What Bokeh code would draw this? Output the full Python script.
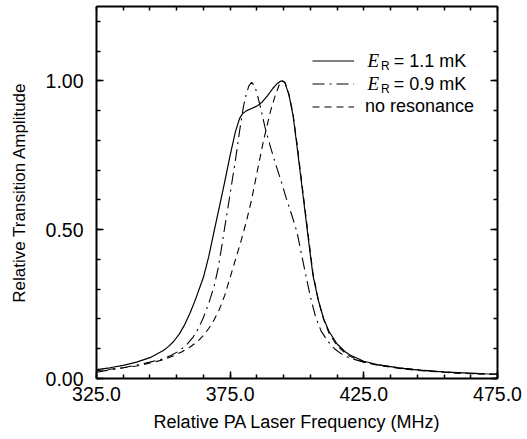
from bokeh.plotting import figure
from bokeh.models import (Range1d, LinearAxis, FixedTicker, PrintfTickFormatter,
                          Legend, LegendItem, Label, CustomLabelingPolicy)
from bokeh.embed import file_html
from bokeh.resources import INLINE

# ---- data ----
freq_11 = [325, 330, 335, 340, 345, 350, 352, 354, 356, 358, 360, 362, 365, 367, 369,
           371, 373, 375, 377, 378.5, 379.5, 381, 383, 385, 387, 389, 391, 392.5, 393.7,
           394.5, 395.5, 397, 398.5, 400, 401.5, 403, 404.5, 406, 408, 410, 412, 415,
           418, 420, 425, 430, 435, 440, 445, 450, 455, 460, 465, 470, 475]
amp_11 = [0.030, 0.036, 0.044, 0.055, 0.070, 0.094, 0.108, 0.126, 0.150, 0.181, 0.220,
          0.265, 0.340, 0.410, 0.495, 0.578, 0.662, 0.750, 0.830, 0.873, 0.888, 0.899,
          0.907, 0.915, 0.929, 0.950, 0.975, 0.990, 0.998, 1.000, 0.993, 0.952, 0.885,
          0.780, 0.670, 0.560, 0.450, 0.345, 0.262, 0.200, 0.158, 0.116, 0.090, 0.078,
          0.058, 0.047, 0.040, 0.033, 0.029, 0.025, 0.022, 0.020, 0.018, 0.016, 0.015]

freq_09 = [325, 330, 335, 340, 345, 350, 353, 356, 359, 361, 363, 365, 367, 369, 370.5,
           372, 373, 374, 375.5, 377, 378.5, 380, 381, 382, 383, 384, 385, 386.5, 388,
           390, 392, 394, 396, 398, 400, 401.5, 403, 405, 407, 409, 411.5, 414, 417,
           420, 425, 430, 435, 440, 445, 450, 455, 460, 465, 470, 475]
amp_09 = [0.021, 0.029, 0.036, 0.045, 0.055, 0.066, 0.078, 0.093, 0.116, 0.137, 0.166,
          0.205, 0.253, 0.310, 0.370, 0.452, 0.510, 0.565, 0.650, 0.735, 0.830, 0.915,
          0.955, 0.983, 0.995, 0.985, 0.960, 0.905, 0.845, 0.780, 0.720, 0.665, 0.605,
          0.550, 0.492, 0.425, 0.360, 0.275, 0.205, 0.160, 0.125, 0.100, 0.080, 0.068,
          0.055, 0.046, 0.040, 0.034, 0.030, 0.026, 0.022, 0.019, 0.017, 0.015, 0.014]

freq_nr = [325, 330, 335, 340, 345, 350, 354, 357, 360, 363, 365, 367, 369, 371, 373,
           375, 377, 379, 381, 383, 385, 387.5, 390, 392, 393.5, 394.5, 395.5, 397,
           398.5, 400, 401.5, 403, 404.5, 406, 408, 410, 412, 415, 418, 420, 425, 430,
           435, 440, 445, 450, 455, 460, 465, 470, 475]
amp_nr = [0.026, 0.031, 0.036, 0.042, 0.052, 0.063, 0.077, 0.090, 0.106, 0.126, 0.145,
          0.168, 0.197, 0.233, 0.280, 0.340, 0.400, 0.460, 0.525, 0.600, 0.690, 0.800,
          0.895, 0.955, 0.990, 1.000, 0.995, 0.955, 0.890, 0.790, 0.680, 0.570, 0.460,
          0.352, 0.262, 0.198, 0.152, 0.110, 0.085, 0.074, 0.055, 0.045, 0.038, 0.032,
          0.027, 0.024, 0.021, 0.018, 0.016, 0.015, 0.014]

x_major = [325, 375, 425, 475]
x_minor = list(range(325, 476, 10))
y_major = [0.0, 0.5, 1.0]
y_minor = [0.0, 0.1, 0.2, 0.3, 0.4, 0.5, 0.6, 0.7, 0.8, 0.9, 1.0, 1.1, 1.2]

legend_rows = [("E", "R", "= 1.1 mK"), ("E", "R", "= 0.9 mK"), ("no resonance",)]

FONT = "Liberation Sans"

p = figure(width=527, height=439, output_backend="svg", toolbar_location=None,
           x_range=Range1d(325, 475), y_range=Range1d(0, 1.2496),
           min_border_left=96, min_border_right=30, min_border_top=6,
           min_border_bottom=61, x_axis_location=None, y_axis_location=None)
p.outline_line_color = None
p.xgrid.visible = False
p.ygrid.visible = False
p.background_fill_color = "white"
p.border_fill_color = "white"


def style_axis(ax, ticker, show_labels):
    ax.ticker = ticker
    ax.axis_line_width = 2
    ax.axis_line_color = "black"
    ax.major_tick_in = 7
    ax.major_tick_out = 0
    ax.minor_tick_in = 4
    ax.minor_tick_out = 0
    ax.major_tick_line_width = 1.5
    ax.minor_tick_line_width = 1.5
    ax.major_tick_line_color = "black"
    ax.minor_tick_line_color = "black"
    ax.major_label_text_font = FONT
    ax.axis_label_text_font = FONT
    ax.axis_label_text_font_style = "normal"
    ax.axis_label_text_color = "black"
    ax.major_label_text_color = "black"
    if not show_labels:
        ax.major_label_policy = CustomLabelingPolicy(code="return new Set()")
        ax.major_label_standoff = 0
        ax.axis_label = None


xt = FixedTicker(ticks=x_major, minor_ticks=x_minor)
yt = FixedTicker(ticks=y_major, minor_ticks=y_minor)

bottom = LinearAxis(axis_label="Relative PA Laser Frequency (MHz)")
style_axis(bottom, xt, True)
bottom.formatter = PrintfTickFormatter(format="%.1f")
bottom.major_label_text_font_size = "19.5px"
bottom.major_label_standoff = 8
bottom.axis_label_text_font_size = "18px"
bottom.axis_label_standoff = 8

left = LinearAxis(axis_label="Relative Transition Amplitude")
style_axis(left, yt, True)
left.formatter = PrintfTickFormatter(format="%.2f")
left.major_label_text_font_size = "19.5px"
left.major_label_standoff = 13
left.axis_label_text_font_size = "17px"
left.axis_label_standoff = 14

# top axis: tick marks only (no major ticks -> no labels, no reserved space)
top = LinearAxis()
style_axis(top, FixedTicker(ticks=[], minor_ticks=x_minor), False)
right = LinearAxis()
style_axis(right, FixedTicker(ticks=y_major, minor_ticks=y_minor), False)

p.add_layout(bottom, "below")
p.add_layout(left, "left")
p.add_layout(top, "above")
p.add_layout(right, "right")

r11 = p.line(freq_11, amp_11, line_color="black", line_width=1.2)
r09 = p.line(freq_09, amp_09, line_color="black", line_width=1.1, line_dash="12 5 2 5")
rnr = p.line(freq_nr, amp_nr, line_color="black", line_width=1.1, line_dash="7 5")

legend = Legend(items=[LegendItem(label=" ", renderers=[r11]),
                       LegendItem(label=" ", renderers=[r09]),
                       LegendItem(label=legend_rows[2][0], renderers=[rnr])],
                location=(216, 261), orientation="vertical",
                glyph_width=42, glyph_height=21, label_height=21, spacing=2,
                label_standoff=11, padding=0, margin=0,
                border_line_alpha=0, background_fill_alpha=0,
                label_text_font=FONT, label_text_font_size="18px",
                label_text_color="black")
p.add_layout(legend)

# E_R labels placed in data coordinates
row_y = [1.068, 0.9907]
for (e, r, rest), yy in zip(legend_rows[:2], row_y):
    p.add_layout(Label(x=426.4, y=yy, text=e, text_font="Liberation Serif",
                       text_font_style="italic", text_font_size="19px",
                       text_baseline="middle", text_color="black"))
    p.add_layout(Label(x=431.4, y=yy - 0.017, text=r, text_font=FONT,
                       text_font_size="12px", text_baseline="middle",
                       text_color="black"))
    p.add_layout(Label(x=436.2, y=yy, text=rest, text_font=FONT,
                       text_font_size="18px", text_baseline="middle",
                       text_color="black"))

open("out.html", "w").write(file_html(p, INLINE))
